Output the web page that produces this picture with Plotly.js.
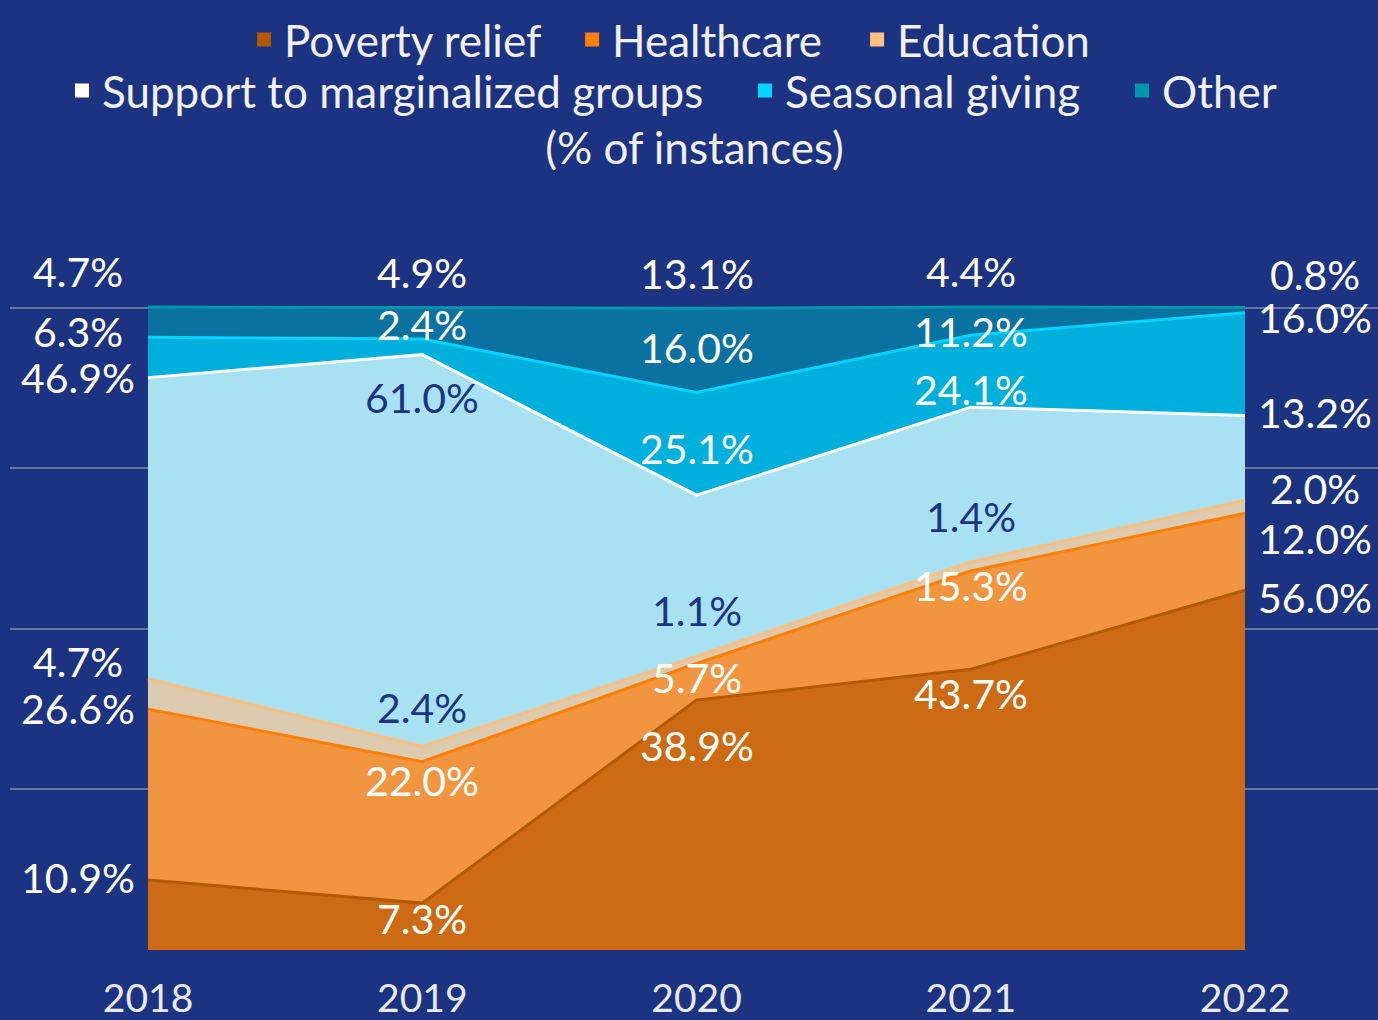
<!DOCTYPE html>
<html>
<head>
<meta charset="utf-8">
<script src="https://cdn.plot.ly/plotly-3.0.1.min.js"></script>
<style>
  html, body { margin: 0; padding: 0; background: #1c3382; }
  #chart { width: 1378px; height: 1020px; }
</style>
</head>
<body>
<div id="chart"></div>
<script>
// ---- Data (% of instances) ----
const years = [2018, 2019, 2020, 2021, 2022];
const seriesNames = ["Poverty relief", "Healthcare", "Education", "Support to marginalized groups", "Seasonal giving", "Other"];
const povertyRelief = [10.9, 7.3, 38.9, 43.7, 56.0];
const healthcare = [26.6, 22.0, 5.7, 15.3, 12.0];
const education = [4.7, 2.4, 1.1, 1.4, 2.0];
const supportMarginalized = [46.9, 61.0, 25.1, 24.1, 13.2];
const seasonalGiving = [6.3, 2.4, 16.0, 11.2, 16.0];
const otherCauses = [4.7, 4.9, 13.1, 4.4, 0.8];
const seriesValues = [povertyRelief, healthcare, education, supportMarginalized, seasonalGiving, otherCauses];

// ---- Styles ----
const BG = "#1c3382";
const DARK = "#1c3382";
const lineColors = ["#b35a00", "#ff7f00", "#ffbf80", "#ffffff", "#00d4ff", "#0095b0"];
const fillColors = ["#cd6b15", "#f29541", "#ddcbb0", "#a8e2f2", "#00b0dc", "#0a72a0"];
const FONT = "Lato, 'Open Sans', sans-serif";
// legend placement (one legend box per entry: paper x of box, paper y of row)
const legendIds = ["legend", "legend2", "legend3", "legend4", "legend5", "legend6"];
const legendX = [0.1711, 0.4109, 0.6192, 0.0380, 0.5373, 0.8129];
const legendY = [1.1333, 1.1333, 1.1333, 1.0700, 1.0700, 1.0700];

// label vertical nudges in pixels (per series, per year) and colours
const labelShift = [
  [2, -15, -45, -24, -7],
  [1, -19, -14, -15, -25],
  [17, 39, 46, 45, 12],
  [0, -43, 47, 18, 3],
  [6, 15, 45, 4, -5],
  [35, 35, 35, 35, 33]
];
const labelDark = [
  [0, 0, 0, 0, 0],
  [0, 0, 0, 0, 0],
  [0, 1, 1, 1, 0],
  [0, 1, 0, 0, 0],
  [0, 0, 0, 0, 0],
  [0, 0, 0, 0, 0]
];

const traces = [];
seriesValues.forEach((vals, i) => {
  traces.push({
    type: "scatter",
    mode: "lines",
    x: years,
    y: vals,
    name: seriesNames[i],
    stackgroup: "one",
    fillcolor: fillColors[i],
    line: { color: lineColors[i], width: 3 },
    showlegend: false,
    hoverinfo: "skip"
  });
});
// legend entries (square swatches)
seriesNames.forEach((n, i) => {
  traces.push({
    type: "scatter",
    mode: "markers",
    x: [null],
    y: [null],
    name: n,
    legend: legendIds[i],
    marker: { symbol: "square", size: 14, color: lineColors[i] },
    showlegend: true,
    hoverinfo: "skip"
  });
});

// labels at the cumulative top of each series
const annotations = [];
const cum = years.map(() => 0);
seriesValues.forEach((vals, i) => {
  vals.forEach((v, j) => {
    cum[j] += v;
    let xshift = 0;
    if (j === 0) xshift = -70;
    if (j === years.length - 1) xshift = 70;
    annotations.push({
      x: years[j],
      y: cum[j],
      xref: "x",
      yref: "y",
      text: v.toFixed(1) + "%",
      showarrow: false,
      xanchor: "center",
      yanchor: "middle",
      xshift: xshift,
      yshift: labelShift[i][j],
      font: { family: FONT, size: 41, color: labelDark[i][j] ? DARK : "#ffffff" }
    });
  });
});
// axis title over the top gridline
annotations.push({
  x: 0.5,
  xref: "paper",
  y: 125,
  yref: "y",
  text: "(% of instances)",
  showarrow: false,
  xanchor: "center",
  yanchor: "middle",
  width: 365,
  bgcolor: BG,
  font: { family: FONT, size: 44, color: "#f0f0f5" }
});

const layout = {
  width: 1378,
  height: 1020,
  paper_bgcolor: BG,
  plot_bgcolor: BG,
  margin: { l: 10, r: 0, t: 147, b: 70 },
  font: { family: FONT, color: "#f0f0f5" },
  showlegend: true,
  xaxis: {
    range: [2017.4968, 2022.4849],
    tickvals: years,
    ticktext: years.map(String),
    showgrid: false,
    zeroline: false,
    showline: false,
    ticks: "",
    ticklabelstandoff: 22,
    tickfont: { family: FONT, size: 39, color: "#e8eaf2" }
  },
  yaxis: {
    range: [0, 125],
    tickvals: [0, 25, 50, 75, 100, 125],
    showticklabels: false,
    showgrid: true,
    gridcolor: "rgba(255,255,255,0.32)",
    gridwidth: 2,
    zeroline: false,
    showline: false,
    ticks: ""
  },
  annotations: annotations
};
legendIds.forEach((id, i) => {
  layout[id] = {
    orientation: "h",
    x: legendX[i],
    xanchor: "left",
    y: legendY[i],
    yanchor: "middle",
    font: { family: FONT, size: 44, color: "#f0f0f5" },
    bgcolor: "rgba(0,0,0,0)"
  };
});

Plotly.newPlot("chart", traces, layout, { displayModeBar: false, staticPlot: true });
</script>
</body>
</html>
